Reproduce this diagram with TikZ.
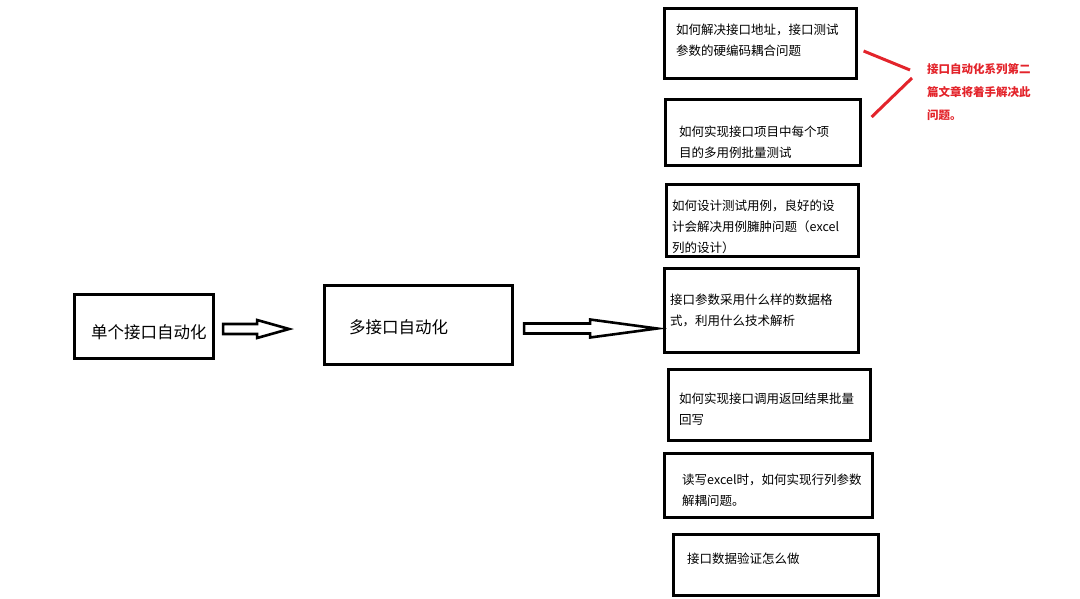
\documentclass[tikz,border=0pt]{standalone}
\usepackage{fontspec}
\setmainfont{Noto Sans CJK SC}
\usepackage{tikz}
\usetikzlibrary{positioning,calc}
\usepackage{xcolor}
\definecolor{ink}{HTML}{000000}
\definecolor{note}{HTML}{E3242B}

\begin{document}
\begin{tikzpicture}[x=1pt,y=-1pt,
    box/.style={draw=ink, line width=3.2pt, inner sep=0pt, minimum width=#1},
    box/.default=190pt,
    txt/.style={anchor=base west, inner sep=0pt, align=left, font=\fontsize{12.5}{21}\selectfont},
    bigtxt/.style={anchor=base west, inner sep=0pt, font=\fontsize{16.5}{20}\selectfont},
    hollow/.style={draw=ink, fill=white, line width=2.6pt, line join=miter},
    redline/.style={note, line width=3pt}]
        \useasboundingbox (0,0) rectangle (1080,598);
        % left part
        \node[box=139pt, minimum height=64pt] (single) at (144,326.5) {};
        \node[bigtxt] (singletxt) at (91,338) {单个接口自动化};
        \node[box=188pt, minimum height=79pt] (multi) at (418.5,325) {};
        \node[bigtxt] (multitxt) at (349,333) {多接口自动化};
        \coordinate (a1) at ($(single.east)+(8,2.5)$);
        \draw[hollow] (a1) ++(0,-5) -- ++(34,0) -- ++(0,-4) -- ++(32,9)
            -- ++(-32,9) -- ++(0,-4) -- ++(-34,0) -- cycle;
        \coordinate (a2) at ($(multi.east)+(10,3.5)$);
        \draw[hollow] (a2) ++(0,-5) -- ++(66,0) -- ++(0,-4) -- ++(67,9)
            -- ++(-67,9) -- ++(0,-4) -- ++(-66,0) -- cycle;
        % right column (base = last line)
        \node[box=192pt, minimum height=70pt] (q1) at (760.5,43.5) {};
        \node[txt] (q1txt) at (676,55) {如何解决接口地址，接口测试\\参数的硬编码耦合问题};
        \node[box=195pt, minimum height=66pt] (q2) at (763,132.5) {};
        \node[txt] (q2txt) at (679,157) {如何实现接口项目中每个项\\目的多用例批量测试};
        \node[box=192pt, minimum height=72pt] (q3) at (762.5,220.5) {};
        \node[txt] (q3txt) at (672,252) {如何设计测试用例，良好的设\\计会解决用例臃肿问题（excel\\列的设计）};
        \node[box=194pt, minimum height=84pt] (q4) at (761.5,310.5) {};
        \node[txt] (q4txt) at (670,325) {接口参数采用什么样的数据格\\式，利用什么技术解析};
        \node[box=202pt, minimum height=71pt] (q5) at (769.5,405) {};
        \node[txt] (q5txt) at (679,424) {如何实现接口调用返回结果批量\\回写};
        \node[box=208pt, minimum height=64pt] (q6) at (768.5,485.5) {};
        \node[txt] (q6txt) at (682,505) {读写excel时，如何实现行列参数\\解耦问题。};
        \node[box=205pt, minimum height=61pt] (q7) at (776,565) {};
        \node[txt] (q7txt) at (687,563) {接口数据验证怎么做};
        % note
        \node[anchor=base west, inner sep=0pt, align=left, note,
            font=\bfseries\fontsize{11.5}{23}\selectfont] (remark) at (927,119.5)
            {接口自动化系列第二\\篇文章将着手解决此\\问题。};
        \coordinate (hinge1) at (910,70);
        \coordinate (hinge2) at (912,78);
        \draw[redline] ($(q1.east)+(5.5,7.5)$) -- (hinge1);
        \draw[redline] (hinge2) -- ($(q2.east)+(9.5,-15.5)$);
      \end{tikzpicture}
\end{document}
